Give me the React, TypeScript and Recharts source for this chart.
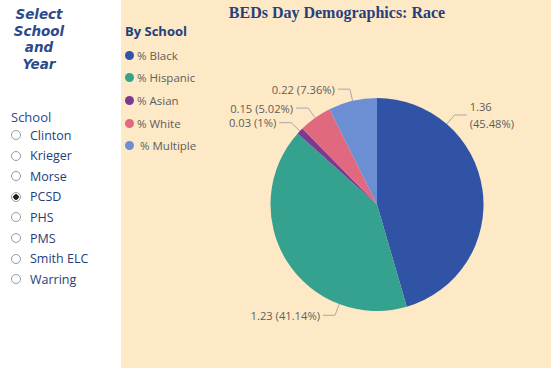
import React from "react";
import { Cell, Pie, PieChart } from "recharts";

const categories = ["% Black", "% Hispanic", "% Asian", "% White", "% Multiple"];
const values = [1.36, 1.23, 0.03, 0.15, 0.22];
const colors = ["#3153A6", "#34A28F", "#7B3A91", "#E0687F", "#6C8FD3"];
const schools = ["Clinton", "Krieger", "Morse", "PCSD", "PHS", "PMS", "Smith ELC", "Warring"];
const selectedSchool = "PCSD";

const chartData = categories.map((name, i) => ({ name, value: values[i] }));

const W = 430;
const H = 368;
const FONT = "'Segoe UI', 'Open Sans', sans-serif";
const RAD = Math.PI / 180;

function pt(cx: number, cy: number, r: number, angle: number) {
  return { x: cx + r * Math.cos(-angle * RAD), y: cy + r * Math.sin(-angle * RAD) };
}

// data labels with elbow leader lines, big slices get the label a quarter of the way in
const renderLabel = (props: any) => {
  const { cx, cy, outerRadius, startAngle, endAngle, midAngle, value, percent } = props;
  const span = Math.abs(endAngle - startAngle);
  const angle = span > 120 ? startAngle + (endAngle - startAngle) * 0.25 : midAngle;
  const p0 = pt(cx, cy, outerRadius, angle);
  const p1 = pt(cx, cy, outerRadius + 12, angle);
  const right = p1.x > cx;
  const p2 = { x: p1.x + (right ? 12 : -12), y: p1.y };
  const tx = p2.x + (right ? 3 : -3);
  const pct = parseFloat((percent * 100).toFixed(2));
  const line1 = value.toFixed(2);
  const line2 = `(${pct}%)`;
  const full = `${line1} ${line2}`;
  const wrap = right && tx + full.length * 5.8 > W - 20;
  return (
    <g>
      <polyline
        points={`${p0.x},${p0.y} ${p1.x},${p1.y} ${p2.x},${p2.y}`}
        fill="none"
        stroke="#A8A8A8"
        strokeWidth={1}
      />
      {wrap ? (
        <text x={tx} y={p1.y} fill="#605E5C" fontSize={11.2} fontFamily={FONT} textAnchor="start">
          <tspan x={tx} dy={-8.5} dominantBaseline="central">{line1}</tspan>
          <tspan x={tx} dy={17} dominantBaseline="central">{line2}</tspan>
        </text>
      ) : (
        <text
          x={tx}
          y={p1.y}
          fill="#605E5C"
          fontSize={11.2}
          fontFamily={FONT}
          textAnchor={right ? "start" : "end"}
          dominantBaseline="central"
        >
          {full}
        </text>
      )}
    </g>
  );
};

export default function App() {
  return (
    <div style={{ position: "absolute", left: 0, top: 0, width: 551, height: 368, background: "#fff", overflow: "hidden" }}>
      {/* slicer panel */}
      <div style={{ position: "absolute", left: 0, top: 6, width: 78, textAlign: "center", fontFamily: "'DejaVu Sans', sans-serif", fontWeight: 700, fontStyle: "italic", fontSize: 13.5, lineHeight: "16.5px", color: "#2C4A8A" }}>
        Select<br />School<br />and<br />Year
      </div>
      <div style={{ position: "absolute", left: 11, top: 108, fontFamily: FONT, fontSize: 13, color: "#2A4A88" }}>School</div>
      {schools.map((s, i) => (
        <div key={s} style={{ position: "absolute", left: 11, top: 127 + i * 20.6, height: 16, display: "flex", alignItems: "center", fontFamily: FONT, fontSize: 12.5, color: "#253E78" }}>
          <span
            style={{
              display: "inline-block",
              boxSizing: "border-box",
              width: 10,
              height: 10,
              borderRadius: "50%",
              border: "1px solid #9A9A9A",
              background: s === selectedSchool ? "radial-gradient(circle, #222 0 2.5px, #fff 3px)" : "#fff",
              marginRight: 9,
            }}
          />
          {s}
        </div>
      ))}

      {/* chart panel */}
      <div style={{ position: "absolute", left: 121, top: 0, width: W, height: H, background: "#FDE9C6" }}>
        <div style={{ position: "absolute", left: 4, top: 22, width: 120, fontFamily: FONT, zIndex: 1 }}>
          <div style={{ fontWeight: 700, fontSize: 13, color: "#233E7D", marginBottom: 4 }}>By School</div>
          {categories.map((c, i) => (
            <div key={c} style={{ display: "flex", alignItems: "center", height: 22.6, fontSize: 11.5, color: "#605E5C" }}>
              <span
                style={{
                  display: "inline-block",
                  width: 9,
                  height: 9,
                  borderRadius: "50%",
                  background: colors[i],
                  marginRight: i === categories.length - 1 ? 6 : 3,
                }}
              />
              {c}
            </div>
          ))}
        </div>
        <PieChart width={W} height={H} margin={{ top: 0, right: 0, bottom: 0, left: 0 }}>
          <text x={216} y={12} textAnchor="middle" dominantBaseline="central" fontFamily="'Liberation Serif', 'Times New Roman', serif" fontWeight={700} fontSize={16} fill="#283F7C">
            BEDs Day Demographics: Race
          </text>
          <Pie
            data={chartData}
            dataKey="value"
            nameKey="name"
            cx={256}
            cy={204.5}
            outerRadius={106.5}
            startAngle={90}
            endAngle={-270}
            stroke="none"
            label={renderLabel}
            labelLine={false}
            isAnimationActive={false}
          >
            {chartData.map((d, i) => (
              <Cell key={d.name} fill={colors[i]} />
            ))}
          </Pie>
        </PieChart>
      </div>
    </div>
  );
}
